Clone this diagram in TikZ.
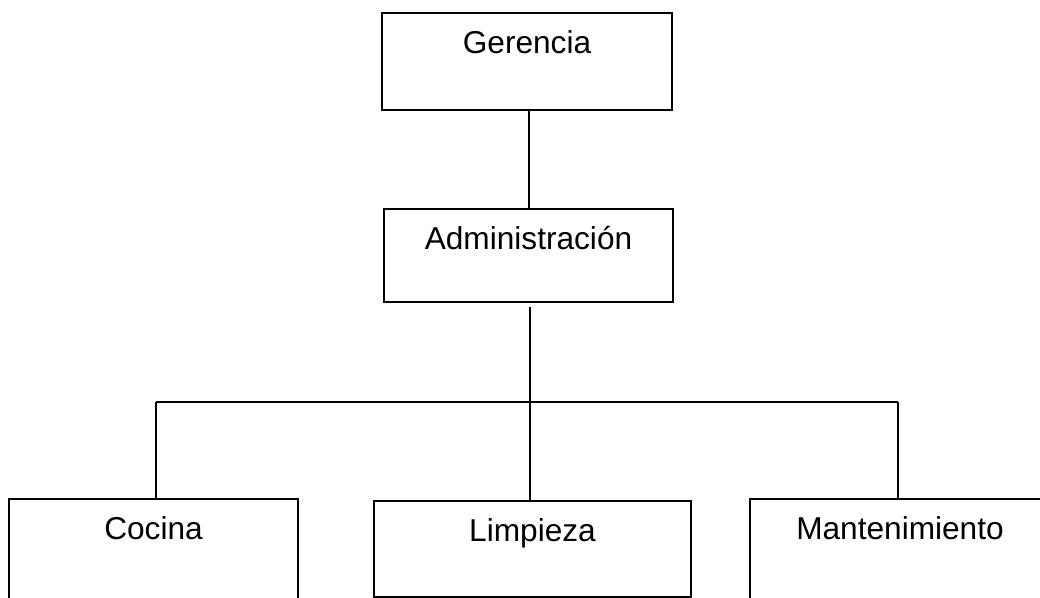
\documentclass[tikz,border=0pt]{standalone}
\usepackage{fontspec}
\setmainfont{Liberation Sans}
\usetikzlibrary{positioning}
\tikzset{
	orgbox/.style={draw, line width=1.1pt, inner sep=0pt, anchor=north, text height=0.82cm, font=\fontsize{18}{21.6}\selectfont},
	orgline/.style={line width=1.1pt}
}

\begin{document}
\begin{tikzpicture}
			%%%%% START %%%%%
			
			\useasboundingbox (0, 0) rectangle (20.8, -11.96);
			\clip (0, 0) rectangle (20.8, -11.96);
			
			\node[orgbox, minimum width=5.8cm, text depth=1.12cm] (ger) at (10.54, -0.24) {Gerencia};
			\node[orgbox, minimum width=5.78cm, text depth=1.04cm] (adm) at (10.57, -4.16) {Administración};
			
			\node[orgbox, minimum width=5.78cm, text depth=1.5cm] (coc) at (3.07, -9.96) {Cocina};
			\node[orgbox, minimum width=6.34cm, text depth=1.1cm] (lim) at (10.65, -10.0) {Limpieza};
			\node[orgbox, minimum width=6.0cm, text depth=1.5cm] (man) at (18.0, -9.96) {Mantenimiento};
			
			\coordinate (busL) at (3.12, -8.04);
			\coordinate (busM) at (10.6, -8.04);
			\coordinate (busR) at (17.96, -8.04);
			
			\draw[orgline] (ger.south -| 10.58, 0) -- (adm.north -| 10.58, 0);
			\draw[orgline] ([yshift=-0.08cm]adm.south -| busM) -- (busM |- lim.north);
			\draw[orgline] (busL) -- (busR);
			\draw[orgline] (busL) -- (busL |- coc.north);
			\draw[orgline] (busR) -- (busR |- man.north);
			
			%%%%% END %%%%%
		\end{tikzpicture}
\end{document}
